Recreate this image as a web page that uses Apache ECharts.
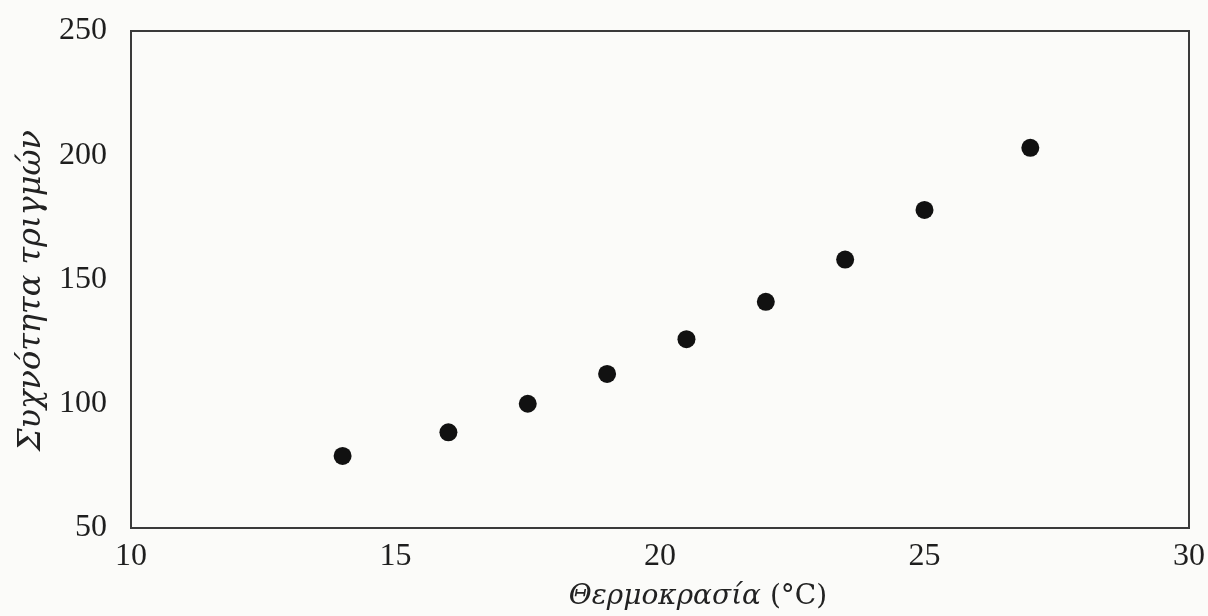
<!DOCTYPE html>
<html>
<head>
<meta charset="utf-8">
<script src="https://cdn.jsdelivr.net/npm/echarts@6/dist/echarts.min.js"></script>
<style>
html,body{margin:0;padding:0;background:#fbfbf9;}
#c{width:1208px;height:616px;}
</style>
</head>
<body>
<div id="c"></div>
<script>
// Data
var temperature = [14, 16, 17.5, 19, 20.5, 22, 23.5, 25, 27];
var chirpRate   = [79, 88.5, 100, 112, 126, 141, 158, 178, 203];
var xTicks = [10, 15, 20, 25, 30];
var yTicks = [50, 100, 150, 200, 250];
var xName = 'Θερμοκρασία';
var xUnit = ' (°C)';
var yName = 'Συχνότητα τριγμών';

var points = temperature.map(function (t, i) { return [t, chirpRate[i]]; });

var chart = echarts.init(document.getElementById('c'), null, {renderer: 'canvas'});
var font = 'Liberation Serif';
var nameFont = 'DejaVu Serif';
chart.setOption({
  backgroundColor: '#fbfbf9',
  animation: false,
  grid: {
    left: 131, right: 18, top: 31, bottom: 88,
    show: true, borderColor: '#3a3a3a', borderWidth: 2, backgroundColor: 'transparent'
  },
  xAxis: {
    type: 'value',
    min: xTicks[0], max: xTicks[xTicks.length - 1], interval: 5,
    name: '{i|' + xName + '}' + xUnit,
    nameLocation: 'middle',
    nameGap: 55,
    nameTextStyle: {
      fontFamily: nameFont, fontSize: 28, color: '#222',
      padding: [0, 0, 0, 76],
      rich: { i: { fontFamily: nameFont, fontSize: 28, fontStyle: 'italic', color: '#222' } }
    },
    axisLine: { show: true, lineStyle: { color: '#3a3a3a', width: 2 } },
    axisTick: { show: false },
    splitLine: { show: false },
    axisLabel: { fontFamily: font, fontSize: 32, color: '#1e1e1e', margin: 13 }
  },
  yAxis: {
    type: 'value',
    min: yTicks[0], max: yTicks[yTicks.length - 1], interval: 50,
    name: yName,
    nameLocation: 'middle',
    nameGap: 80,
    nameTextStyle: { fontFamily: nameFont, fontSize: 32, fontStyle: 'italic', color: '#222', padding: [0, 22, 0, 0] },
    axisLine: { show: true, lineStyle: { color: '#3a3a3a', width: 2 } },
    axisTick: { show: false },
    splitLine: { show: false },
    axisLabel: { fontFamily: font, fontSize: 32, color: '#1e1e1e', margin: 24 }
  },
  series: [{
    type: 'scatter',
    data: points,
    symbol: 'circle',
    symbolSize: 18,
    itemStyle: { color: '#111', opacity: 1 }
  }]
});
</script>
</body>
</html>
